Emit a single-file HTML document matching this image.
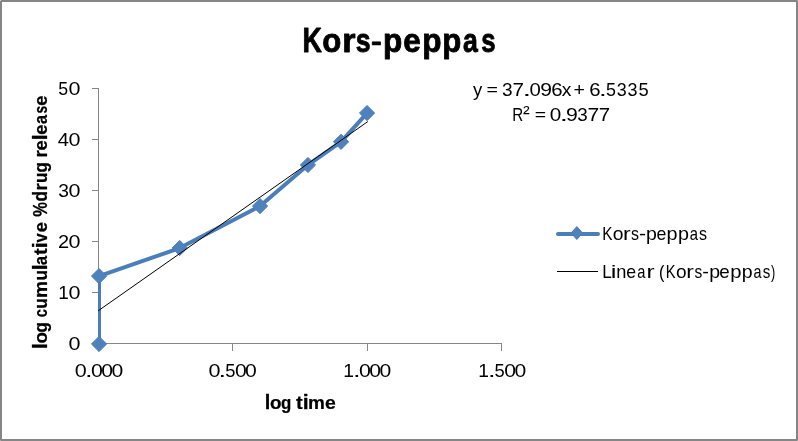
<!DOCTYPE html>
<html>
<head>
<meta charset="utf-8">
<title>Kors-peppas</title>
<style>
html,body{margin:0;padding:0;background:#fff;}
body{width:798px;height:441px;overflow:hidden;font-family:"Liberation Sans",sans-serif;}
svg{display:block;will-change:transform;}
text{font-family:"Liberation Sans",sans-serif;fill:#000;}
.b{font-weight:bold;}
</style>
</head>
<body>
<svg width="798" height="441" viewBox="0 0 798 441">
  <!-- chart frame -->
  <rect x="1" y="1" width="796" height="439" fill="#fff" stroke="#868686" stroke-width="2"/>

  <g shape-rendering="crispEdges"><rect x="0" y="0" width="1" height="1" fill="#d4d4d4"/><rect x="797" y="0" width="1" height="1" fill="#a6a6a6"/><rect x="0" y="440" width="1" height="1" fill="#a6a6a6"/><rect x="797" y="440" width="1" height="1" fill="#a6a6a6"/></g>
  <!-- axes -->
  <g stroke="#868686" stroke-width="1" fill="none" shape-rendering="crispEdges">
    <line x1="98.5" y1="88" x2="98.5" y2="344"/>
    <line x1="98" y1="343.5" x2="502" y2="343.5"/>
    <!-- y ticks -->
    <line x1="92" y1="88.5" x2="99" y2="88.5"/>
    <line x1="92" y1="139.5" x2="99" y2="139.5"/>
    <line x1="92" y1="190.5" x2="99" y2="190.5"/>
    <line x1="92" y1="241.5" x2="99" y2="241.5"/>
    <line x1="92" y1="292.5" x2="99" y2="292.5"/>
    <line x1="92" y1="343.5" x2="99" y2="343.5"/>
    <!-- x ticks -->
    <line x1="98.5" y1="343" x2="98.5" y2="351"/>
    <line x1="232.5" y1="343" x2="232.5" y2="351"/>
    <line x1="367.5" y1="343" x2="367.5" y2="351"/>
    <line x1="501.5" y1="343" x2="501.5" y2="351"/>
  </g>

  <!-- series -->
  <defs><clipPath id="plotclip"><rect x="98" y="60" width="420" height="285"/></clipPath></defs>
  <polyline clip-path="url(#plotclip)" points="99,344 99,276.1 179.7,248.1 260.1,206.1 307.9,165 341,141.8 367.05,113.05" fill="none" stroke="#4a7ebb" stroke-width="4" stroke-linejoin="round" stroke-linecap="round"/>
  <g fill="#4f81bd" stroke="#4a7ebb" stroke-width="1" stroke-linejoin="round">
    <path d="M99.05 336.4l7.6 7.6-7.6 7.6-7.6-7.6z"/>
    <path d="M99.05 268.5l7.6 7.6-7.6 7.6-7.6-7.6z"/>
    <path d="M179.75 240.4l7.6 7.6-7.6 7.6-7.6-7.6z"/>
    <path d="M260.05 198.5l7.6 7.6-7.6 7.6-7.6-7.6z"/>
    <path d="M307.95 157.4l7.6 7.6-7.6 7.6-7.6-7.6z"/>
    <path d="M341.05 134.2l7.6 7.6-7.6 7.6-7.6-7.6z"/>
    <path d="M367.05 105.45l7.6 7.6-7.6 7.6-7.6-7.6z"/>
  </g>
  <!-- trendline -->
  <line x1="98.2" y1="310.8" x2="367.9" y2="121.5" stroke="#000" stroke-width="1"/>

  <!-- title -->
  <g font-size="35.2" class="b" stroke="#000" stroke-width="0.9" stroke-linejoin="round"><text transform="translate(302.55 52.35) scale(0.7615 0.9750)">K</text><text transform="translate(322.28 52.35) scale(0.8854 0.9400)">o</text><text transform="translate(342.18 52.35) scale(0.9706 0.9400)">r</text><text transform="translate(355.80 52.35) scale(0.7586 0.9400)">s</text><text transform="translate(371.05 49.88) scale(0.9149 0.7264)">-</text><text transform="translate(383.12 52.35) scale(0.8960 0.9400)">p</text><text transform="translate(403.17 52.35) scale(0.8939 0.9400)">e</text><text transform="translate(422.22 52.35) scale(0.8960 0.9400)">p</text><text transform="translate(442.34 52.35) scale(0.8853 0.9400)">p</text><text transform="translate(463.06 52.35) scale(0.7575 0.9400)">a</text><text transform="translate(481.32 52.35) scale(0.7305 0.9400)">s</text></g>

  <!-- y tick labels -->
  <g font-size="18.7"><text transform="translate(58.19 95.35) scale(0.9474 1.0000)">5</text><text transform="translate(68.56 95.35) scale(1.1522 1.0000)">0</text></g>
  <g font-size="18.7"><text transform="translate(57.84 146.35) scale(1.0718 1.0000)">4</text><text transform="translate(68.56 146.35) scale(1.1522 1.0000)">0</text></g>
  <g font-size="18.7"><text transform="translate(58.17 197.35) scale(1.0264 1.0000)">3</text><text transform="translate(68.56 197.35) scale(1.1522 1.0000)">0</text></g>
  <g font-size="18.7"><text transform="translate(57.90 248.35) scale(1.0682 1.0000)">2</text><text transform="translate(68.56 248.35) scale(1.1522 1.0000)">0</text></g>
  <g font-size="18.7"><text transform="translate(58.35 299.35) scale(1.0170 1.0000)">1</text><text transform="translate(68.56 299.35) scale(1.1522 1.0000)">0</text></g>
  <g font-size="18.7"><text transform="translate(68.56 350.35) scale(1.1522 1.0000)">0</text></g>
  <!-- x tick labels -->
  <g font-size="18.7"><text transform="translate(74.86 377.10) scale(1.1522 1.0000)">0</text><text transform="translate(84.91 377.10) scale(1.4602 1.0000)">.</text><text transform="translate(90.97 377.10) scale(1.1411 1.0000)">0</text><text transform="translate(101.37 377.10) scale(1.1299 1.0000)">0</text><text transform="translate(111.47 377.10) scale(1.1299 1.0000)">0</text></g>
  <g font-size="18.7"><text transform="translate(208.46 377.10) scale(1.1522 1.0000)">0</text><text transform="translate(218.51 377.10) scale(1.4602 1.0000)">.</text><text transform="translate(225.17 377.10) scale(0.9813 1.0000)">5</text><text transform="translate(234.97 377.10) scale(1.1299 1.0000)">0</text><text transform="translate(245.07 377.10) scale(1.1299 1.0000)">0</text></g>
  <g font-size="18.7"><text transform="translate(343.23 377.10) scale(1.0295 1.0000)">1</text><text transform="translate(352.91 377.10) scale(1.4602 1.0000)">.</text><text transform="translate(358.97 377.10) scale(1.1411 1.0000)">0</text><text transform="translate(369.37 377.10) scale(1.1299 1.0000)">0</text><text transform="translate(379.47 377.10) scale(1.1299 1.0000)">0</text></g>
  <g font-size="18.7"><text transform="translate(478.23 377.10) scale(1.0295 1.0000)">1</text><text transform="translate(487.91 377.10) scale(1.4602 1.0000)">.</text><text transform="translate(494.57 377.10) scale(0.9813 1.0000)">5</text><text transform="translate(504.37 377.10) scale(1.1299 1.0000)">0</text><text transform="translate(514.47 377.10) scale(1.1299 1.0000)">0</text></g>

  <!-- axis titles -->
  <g font-size="19" class="b" stroke="#000" stroke-width="0.25" stroke-linejoin="round"><text transform="translate(264.84 408.70) scale(1.0501 1.0200)">l</text><text transform="translate(270.09 408.70) scale(0.9931 0.9750)">o</text><text transform="translate(281.02 408.70) scale(0.8872 0.9750)">g</text> <text transform="translate(295.99 408.70) scale(1.0633 0.9850)">t</text><text transform="translate(302.65 408.70) scale(1.1201 1.0200)">i</text><text transform="translate(308.07 408.70) scale(0.9991 0.9750)">m</text><text transform="translate(325.07 408.70) scale(1.0185 0.9750)">e</text></g>
  <g font-size="19" class="b" stroke="#000" stroke-width="0.25" stroke-linejoin="round"><text transform="translate(47.10 347.60) rotate(-90) translate(-1.35 0) scale(1.1209 1.0350)">l</text><text transform="translate(47.10 342.95) rotate(-90) translate(-0.61 0) scale(0.9901 0.9550)">o</text><text transform="translate(47.10 331.98) rotate(-90) translate(-0.58 0) scale(0.8913 0.9550)">g</text> <text transform="translate(47.10 316.89) rotate(-90) translate(-0.48 0) scale(0.7705 0.9550)">c</text><text transform="translate(47.10 307.71) rotate(-90) translate(-0.95 0) scale(0.8974 0.9550)">u</text><text transform="translate(47.10 296.80) rotate(-90) translate(-1.13 0) scale(1.0066 0.9550)">m</text><text transform="translate(47.10 279.64) rotate(-90) translate(-0.95 0) scale(0.8974 0.9550)">u</text><text transform="translate(47.10 268.88) rotate(-90) translate(-1.35 0) scale(1.1209 1.0350)">l</text><text transform="translate(47.10 264.53) rotate(-90) translate(-0.37 0) scale(0.8540 0.9550)">a</text><text transform="translate(47.10 254.81) rotate(-90) translate(-0.11 0) scale(1.0489 0.9850)">t</text><text transform="translate(47.10 246.95) rotate(-90) translate(-1.35 0) scale(1.1209 1.0350)">i</text><text transform="translate(47.10 242.60) rotate(-90) translate(0.04 0) scale(0.8846 0.9550)">v</text><text transform="translate(47.10 231.72) rotate(-90) translate(-0.60 0) scale(0.9664 0.9550)">e</text> <text transform="translate(47.10 216.36) rotate(-90) translate(-0.30 0) scale(0.8686 1.0300)">%</text><text transform="translate(47.10 200.92) rotate(-90) translate(-0.59 0) scale(0.9017 1.0350)">d</text><text transform="translate(47.10 189.51) rotate(-90) translate(-1.10 0) scale(0.9723 0.9550)">r</text><text transform="translate(47.10 182.13) rotate(-90) translate(-0.95 0) scale(0.8974 0.9550)">u</text><text transform="translate(47.10 172.02) rotate(-90) translate(-0.58 0) scale(0.8913 0.9550)">g</text> <text transform="translate(47.10 156.43) rotate(-90) translate(-1.10 0) scale(0.9723 0.9550)">r</text><text transform="translate(47.10 149.80) rotate(-90) translate(-0.60 0) scale(0.9664 0.9550)">e</text><text transform="translate(47.10 138.99) rotate(-90) translate(-1.35 0) scale(1.1209 1.0350)">l</text><text transform="translate(47.10 134.24) rotate(-90) translate(-0.60 0) scale(0.9664 0.9550)">e</text><text transform="translate(47.10 123.68) rotate(-90) translate(-0.37 0) scale(0.8540 0.9550)">a</text><text transform="translate(47.10 113.11) rotate(-90) translate(-0.39 0) scale(0.7255 0.9550)">s</text><text transform="translate(47.10 105.21) rotate(-90) translate(-0.60 0) scale(0.9664 0.9550)">e</text></g>

  <!-- equation -->
  <g font-size="18.7"><text transform="translate(472.95 96.10) scale(0.9927 1.0000)">y</text> <text transform="translate(486.45 95.21) scale(1.0457 0.8961)">=</text> <text transform="translate(501.98 96.10) scale(1.0151 1.0000)">3</text><text transform="translate(512.54 96.10) scale(1.1058 1.0000)">7</text><text transform="translate(522.42 96.10) scale(1.6849 1.0000)">.</text><text transform="translate(529.60 96.10) scale(1.0907 1.0000)">0</text><text transform="translate(540.31 96.10) scale(1.1288 1.0000)">9</text><text transform="translate(551.17 96.10) scale(1.0894 1.0000)">6</text><text transform="translate(561.73 96.10) scale(1.0348 1.0000)">x</text> <text transform="translate(573.55 96.16) scale(1.0457 0.9509)">+</text> <text transform="translate(589.37 96.10) scale(1.0894 1.0000)">6</text><text transform="translate(599.11 96.10) scale(1.4883 1.0000)">.</text><text transform="translate(605.98 96.10) scale(0.9587 1.0000)">5</text><text transform="translate(616.72 96.10) scale(0.9587 1.0000)">3</text><text transform="translate(627.62 96.10) scale(0.9587 1.0000)">3</text><text transform="translate(638.47 96.10) scale(0.9813 1.0000)">5</text></g>
  <g font-size="18.7"><text transform="translate(512.16 120.90) scale(0.8106 1.0000)">R</text><text transform="translate(523.10 119.08) scale(1.0734 1.0084)">²</text> <text transform="translate(534.66 119.97) scale(1.0346 0.9127)">=</text> <text transform="translate(549.79 120.90) scale(1.1075 1.0000)">0</text><text transform="translate(559.81 120.90) scale(1.5726 1.0000)">.</text><text transform="translate(566.11 120.90) scale(1.1345 1.0000)">9</text><text transform="translate(577.29 120.90) scale(1.0038 1.0000)">3</text><text transform="translate(587.62 120.90) scale(1.1293 1.0000)">7</text><text transform="translate(598.65 120.90) scale(1.0940 1.0000)">7</text></g>

  <!-- legend -->
  <line x1="558" y1="234" x2="598" y2="234" stroke="#4a7ebb" stroke-width="4" stroke-linecap="round"/>
  <path d="M576.85 226.6l5.8 6.45-5.8 6.45-5.8-6.45z" fill="#4f81bd" stroke="#4a7ebb" stroke-width="1" stroke-linejoin="round"/>
  
  <line x1="557" y1="271.5" x2="598" y2="271.5" stroke="#000" stroke-width="1" shape-rendering="crispEdges"/>
  <g font-size="18.7"><text transform="translate(602.34 239.90) scale(0.8202 1.0000)">K</text><text transform="translate(612.69 239.90) scale(1.0306 0.9700)">o</text><text transform="translate(622.89 239.90) scale(1.2193 0.9700)">r</text><text transform="translate(630.96 239.90) scale(0.8524 0.9700)">s</text><text transform="translate(638.91 240.36) scale(1.1280 0.9583)">-</text><text transform="translate(645.94 239.90) scale(1.0464 0.9700)">p</text><text transform="translate(656.45 239.90) scale(0.9459 0.9700)">e</text><text transform="translate(666.62 239.90) scale(1.0583 0.9700)">p</text><text transform="translate(677.92 239.90) scale(1.0583 0.9700)">p</text><text transform="translate(689.67 239.90) scale(0.7912 0.9700)">a</text><text transform="translate(699.05 239.90) scale(0.8585 0.9700)">s</text></g>
  <g font-size="18.7"><text transform="translate(602.35 277.70) scale(0.9157 1.0000)">L</text><text transform="translate(610.69 277.70) scale(1.3690 1.0000)">i</text><text transform="translate(616.24 277.70) scale(0.9756 0.9700)">n</text><text transform="translate(626.30 277.70) scale(0.9459 0.9700)">e</text><text transform="translate(637.33 277.70) scale(0.7860 0.9700)">a</text><text transform="translate(646.49 277.70) scale(1.2941 0.9700)">r</text> <text transform="translate(659.09 277.70) scale(0.8673 1.0000)">(</text><text transform="translate(665.79 277.70) scale(0.7876 1.0000)">K</text><text transform="translate(676.00 277.70) scale(1.0193 0.9700)">o</text><text transform="translate(686.20 277.70) scale(1.2086 0.9700)">r</text><text transform="translate(694.42 277.70) scale(0.8278 0.9700)">s</text><text transform="translate(702.21 278.16) scale(1.0733 0.9583)">-</text><text transform="translate(709.34 277.70) scale(1.0464 0.9700)">p</text><text transform="translate(719.30 277.70) scale(1.0029 0.9700)">e</text><text transform="translate(730.20 277.70) scale(1.0821 0.9700)">p</text><text transform="translate(741.74 277.70) scale(1.0464 0.9700)">p</text><text transform="translate(753.49 277.70) scale(0.7704 0.9700)">a</text><text transform="translate(762.68 277.70) scale(0.8094 0.9700)">s</text><text transform="translate(770.92 277.70) scale(0.6858 1.0000)">)</text></g>
</svg>
</body>
</html>
